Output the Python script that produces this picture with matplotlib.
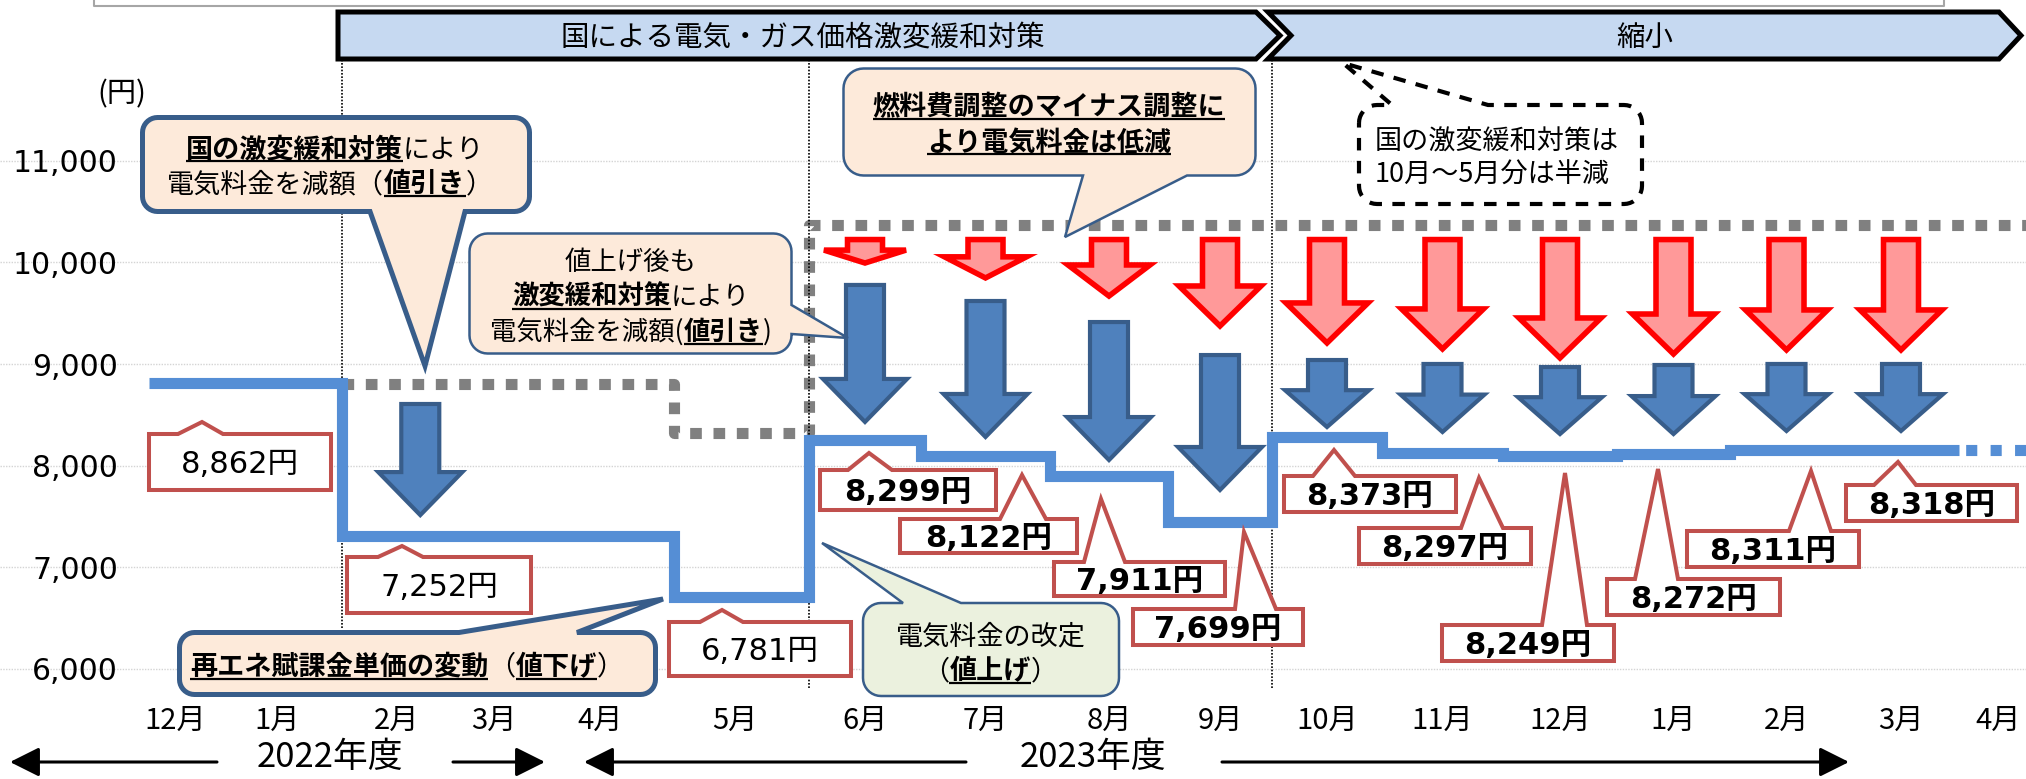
import numpy as np
import matplotlib
matplotlib.use('Agg')
import matplotlib.pyplot as plt
from matplotlib.patches import Polygon, FancyArrowPatch

W, H = 2026, 779
CJK = 'Noto Sans CJK JP'
plt.rcParams['font.family'] = [CJK, 'DejaVu Sans']

# ---------------- data ----------------
months = ['12月', '1月', '2月', '3月', '4月', '5月', '6月', '7月', '8月', '9月',
          '10月', '11月', '12月', '1月', '2月', '3月', '4月']
fiscal_years = ['2022年度', '2023年度']
# bill level as drawn, Dec-2022 .. Mar-2024 (yen)
bill_line = [8813, 8813, 7302, 7302, 7302, 6706, 8247, 8094, 7897, 7440,
             8277, 8124, 8094, 8114, 8153, 8153]
# printed values in the callouts (yen)
label_yen = [8862, 7252, 6781, 8299, 8122, 7911, 7699, 8373, 8297, 8249, 8272, 8311, 8318]
# level before the discount (grey dotted), Feb-2023 .. Apr-2024
pre_discount = [8803, 8803, 8803, 8321, 10368, 10368, 10368, 10368, 10368,
                10368, 10368, 10368, 10368, 10368, 10368]
# discount arrows (blue)
blue_months = [2, 6, 7, 8, 9, 10, 11, 12, 13, 14, 15]
blue_from = [8626, 9798, 9640, 9433, 9108, 9059, 9020, 8990, 9010, 9020, 9020]
blue_to = [7483, 8400, 8252, 8025, 7730, 8350, 8301, 8281, 8281, 8311, 8311]
# fuel-cost adjustment arrows (red)
red_months = [6, 7, 8, 9, 10, 11, 12, 13, 14, 15]
red_from = [10245, 10245, 10245, 10245, 10245, 10245, 10245, 10245, 10245, 10245]
red_to = [9955, 9808, 9630, 9335, 9168, 9109, 9020, 9059, 9099, 9099]
y_ticks = [6000, 7000, 8000, 9000, 10000, 11000]
banner_texts = ['国による電気・ガス価格激変緩和対策', '縮小']

# ---------------- layout ----------------
# uneven month spacing of the original (month index -> horizontal pixel)
KX = [-2.0, -0.5, 0, 1, 1.5, 2, 3, 4, 4.5, 5, 5.5, 6.5, 7.5, 8.5, 9.5, 10.5,
      11.5, 12.5, 13.5, 14.5, 15.5, 16, 16.36]
KP = [0, 149, 175, 277, 342, 397, 494, 600, 674, 735, 809, 921, 1050, 1168,
      1272, 1382, 1503, 1617, 1730, 1843, 1959, 1998, 2026]


def fwd(x):
    return np.interp(x, KX, KP)


def inv(p):
    return np.interp(p, KP, KX)


fig = plt.figure(figsize=(W / 100, H / 100), dpi=100)
fig.patch.set_facecolor('white')
ax = fig.add_axes([0, 0, 1, 1])
ax.set_xscale('function', functions=(fwd, inv))
ax.set_xlim(KX[0], KX[-1])
ax.set_ylim(4914, 12584)
for s in ax.spines.values():
    s.set_visible(False)

ax.set_yticks(y_ticks, labels=[f'{v:,}' for v in y_ticks])
for lab in ax.get_yticklabels():
    lab.set_family('DejaVu Sans')
ax.tick_params(axis='y', length=0, pad=-85, labelsize=21.5)
ax.set_xticks(range(len(months)), labels=months)
ax.tick_params(axis='x', length=0, pad=-52.5, labelsize=21)
ax.grid(axis='y', color='#D4D4D4', lw=1.0, ls=(0, (1, 1)))
ax.set_axisbelow(True)

# grey dotted pre-discount level
pe = np.arange(1.5, 1.5 + len(pre_discount) + 1, 1.0)
ax.plot(np.repeat(pe, 2)[1:-1], np.repeat(pre_discount, 2), color='#808080',
        lw=8, ls=(0, (1.05, 1.05)), solid_joinstyle='miter', zorder=2)

# period separators
for xb, yb in [(1.5, 0.194), (5.5, 0.117), (9.5, 0.117)]:
    ax.axvline(xb, ymin=yb, ymax=0.922, color='black', lw=1.2, ls=(0, (1, 1)), zorder=2)

# bill step line
ed = np.arange(-0.5, len(bill_line), 1.0)
ax.plot(np.repeat(ed, 2)[1:-1], np.repeat(bill_line, 2), color='#558ED5', lw=8,
        solid_joinstyle='miter', solid_capstyle='butt', zorder=3)
ax.plot([ed[-1], KX[-1]], [bill_line[-1]] * 2, color='#558ED5', lw=8,
        ls=(1.6, (1.0, 1.2)), zorder=3)

# ---------------- overlay in pixels ----------------
ov = fig.add_axes([0, 0, 1, 1], zorder=5)
ov.set_xlim(0, W)
ov.set_ylim(H, 0)
ov.axis('off')
ov.patch.set_visible(False)
R = fig.canvas.get_renderer()


def d2p(x, y):
    X, Y = ax.transData.transform((x, y))
    return X, H - Y


def down_arrow(xc, ytop, ytip, shaft, head, hlen, fc, ec, lw):
    hl = min(hlen, 0.55 * (ytip - ytop))
    pts = [(xc - shaft / 2, ytop), (xc + shaft / 2, ytop), (xc + shaft / 2, ytip - hl),
           (xc + head / 2, ytip - hl), (xc, ytip), (xc - head / 2, ytip - hl),
           (xc - shaft / 2, ytip - hl)]
    ov.add_patch(Polygon(pts, closed=True, fc=fc, ec=ec, lw=lw, joinstyle='miter', zorder=3))


for m, a, b in zip(red_months, red_from, red_to):
    xc, yt = d2p(m, a)
    _, yb = d2p(m, b)
    down_arrow(xc, yt + 2, yb - 4, 35, 82, 40, '#FF9999', '#FF0000', 4)

for m, a, b in zip(blue_months, blue_from, blue_to):
    pos = m + (0.24 if m == 2 else 0.0)
    xc, yt = d2p(pos, a)
    _, yb = d2p(pos, b)
    down_arrow(xc, yt + 2, yb - 3, 38, 84, 43, '#4F81BD', '#385D8A', 3)


def bubble(x0, y0, x1, y1, r, ptr, fc, ec, lw, ls='solid', z=6):
    pts = []

    def arc(cx, cy, a0, a1):
        for t in np.linspace(np.radians(a0), np.radians(a1), 10):
            pts.append((cx + r * np.cos(t), cy + r * np.sin(t)))
    edge, b1, b2, apex = ptr
    arc(x0 + r, y0 + r, 180, 270)
    if edge == 'top':
        pts.extend([(b1, y0), apex, (b2, y0)])
    arc(x1 - r, y0 + r, 270, 360)
    if edge == 'right':
        pts.extend([(x1, b1), apex, (x1, b2)])
    arc(x1 - r, y1 - r, 0, 90)
    if edge == 'bottom':
        pts.extend([(b2, y1), apex, (b1, y1)])
    arc(x0 + r, y1 - r, 90, 180)
    ov.add_patch(Polygon(pts, closed=True, fc=fc, ec=ec, lw=lw, ls=ls,
                         joinstyle='miter', zorder=z))


def rich(xc, yc, parts, size, ha='center', color='black'):
    em = size * 100 / 72
    base = yc + 0.38 * em
    objs = []
    total = 0
    for s, b, u in parts:
        t = ov.text(0, base, s, fontsize=size, fontweight='bold' if b else 'normal',
                    family=[CJK, 'DejaVu Sans'], ha='left', va='baseline', color=color, zorder=10)
        w = t.get_window_extent(renderer=R).width
        objs.append((t, w, u))
        total += w
    x = xc - total / 2 if ha == 'center' else xc
    for t, w, u in objs:
        t.set_x(x)
        if u:
            ov.plot([x, x + w], [base + 0.14 * em] * 2, color=color, lw=1.6,
                    solid_capstyle='butt', zorder=10)
        x += w


# value callouts (outer box, pointer base, apex)
label_boxes = [
    (147, 432, 333, 492, 178, 223, 202, 420),
    (345, 555, 533, 615, 378, 423, 402, 544),
    (667, 620, 853, 678, 700, 743, 722, 608),
    (818, 468, 998, 512, 848, 892, 869, 451),
    (898, 517, 1079, 555, 1000, 1046, 1022, 473),
    (1052, 560, 1227, 598, 1084, 1125, 1101, 497),
    (1131, 607, 1305, 647, 1235, 1276, 1244, 530),
    (1282, 474, 1458, 514, 1313, 1355, 1334, 448),
    (1357, 526, 1533, 566, 1461, 1503, 1479, 476),
    (1440, 623, 1616, 663, 1542, 1587, 1565, 471),
    (1605, 577, 1782, 617, 1635, 1678, 1658, 467),
    (1685, 529, 1861, 569, 1789, 1831, 1811, 469),
    (1844, 483, 2019, 523, 1874, 1916, 1898, 460),
]
for k, (v, bx) in enumerate(zip(label_yen, label_boxes)):
    x0, y0, x1, y1, b1, b2, axp, ayp = bx
    x0, y0, x1, y1 = x0 + 2, y0 + 2, x1 - 2, y1 - 2
    pts = [(x0, y0), (b1, y0), (axp, ayp + 2), (b2, y0), (x1, y0), (x1, y1), (x0, y1)]
    ov.add_patch(Polygon(pts, closed=True, fc='white', ec='#C0504D', lw=2.9,
                         joinstyle='miter', zorder=7))
    size = 22
    em = size * 100 / 72
    ov.text((x0 + x1) / 2, (y0 + y1) / 2 + 0.365 * em, f'{v:,}円', fontsize=size,
            fontweight='bold' if k >= 3 else 'normal', family=['DejaVu Sans', CJK],
            ha='center', va='baseline', color='black', zorder=8)

PEACH, NAVY = '#FDEADA', '#385D8A'
# B1
bubble(142.5, 117.5, 529.5, 211.5, 15, ('bottom', 370, 465, (425, 366)), PEACH, NAVY, 3.6)
rich(335, 147, [('国の激変緩和対策', 1, 1), ('により', 0, 0)], 19.5)
rich(330, 182, [('電気料金を減額（', 0, 0), ('値引き', 1, 1), ('）', 0, 0)], 19.5)
# B2
bubble(469.5, 233.5, 791.5, 353.5, 18, ('right', 305, 334, (848, 338)), PEACH, NAVY, 1.8)
rich(631, 260, [('値上げ後も', 0, 0)], 19)
rich(631, 295, [('激変緩和対策', 1, 1), ('により', 0, 0)], 19)
rich(631, 330, [('電気料金を減額(', 0, 0), ('値引き', 1, 1), (')', 0, 0)], 19)
# B3
bubble(843.5, 68.5, 1255.5, 175.5, 20, ('bottom', 1083, 1187, (1065, 237)), PEACH, NAVY, 1.8)
rich(1049, 104.5, [('燃料費調整のマイナス調整に', 1, 1)], 19.5)
rich(1049, 140, [('より電気料金は低減', 1, 1)], 19.5)
# B4
bubble(179.5, 632.5, 655.5, 694.5, 15, ('top', 459, 577, (663, 599)), PEACH, NAVY, 3.6)
rich(407, 664.5, [('再エネ賦課金単価の変動', 1, 1), ('（', 0, 0), ('値下げ', 1, 1), ('）', 0, 0)], 19.5)
# B5
bubble(863, 603, 1119, 696, 18, ('top', 903, 961, (822, 543)), '#EBF1DE', NAVY, 1.8)
rich(991, 634, [('電気料金の改定', 0, 0)], 19.5)
rich(990, 669, [('（', 0, 0), ('値上げ', 1, 1), ('）', 0, 0)], 19.5)
# B6 dashed
bubble(1359, 105, 1642, 204, 18, ('top', 1392, 1488, (1343, 63)), 'white', 'black', 3,
       ls=(0, (3, 2.5)))
rich(1375, 139.5, [('国の激変緩和対策は', 0, 0)], 19.5, ha='left')
rich(1375, 172, [('10月～5月分は半減', 0, 0)], 19.5, ha='left')

# banners
ov.add_patch(Polygon([(338, 12), (1256, 12), (1280, 35.5), (1256, 59), (338, 59)], closed=True,
                     fc='#C6D9F1', ec='black', lw=3.6, joinstyle='miter', zorder=6))
ov.add_patch(Polygon([(1268, 12), (1999, 12), (2021, 35.5), (1999, 59), (1268, 59), (1291, 35.5)],
                     closed=True, fc='#C6D9F1', ec='black', lw=3.6, joinstyle='miter', zorder=6))
rich(803, 35, [(banner_texts[0], 0, 0)], 20.5)
rich(1645, 35, [(banner_texts[1], 0, 0)], 20.5)

# top frame remnant
ov.plot([94, 94, 1944, 1944], [0, 6, 6, 0], color='#A6A6A6', lw=1.5, zorder=4)

# unit
rich(122, 91, [('(円)', 0, 0)], 21)

# fiscal years
for txt, xc in zip(fiscal_years, [330, 1093]):
    rich(xc, 754, [(txt, 0, 0)], 25)
for xa, xb in [(217, 10), (453, 545), (966, 584), (1222, 1849)]:
    ov.add_patch(FancyArrowPatch((xa, 762), (xb, 762), arrowstyle='-|>,head_length=0.9,head_width=0.45',
                                 mutation_scale=20, lw=2.2, color='black', shrinkA=0, shrinkB=0, zorder=6))

fig.savefig('out.png', dpi=100)
